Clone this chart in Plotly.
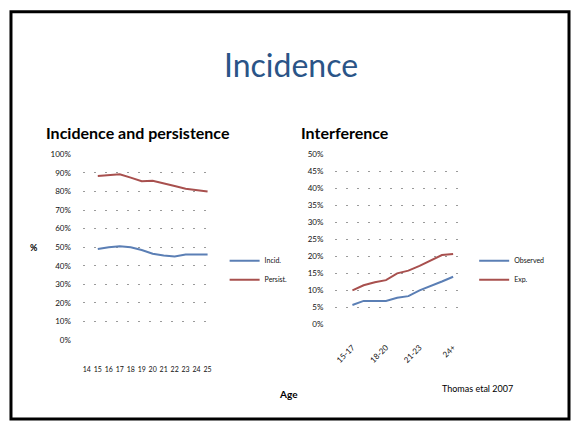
import plotly.graph_objects as go

# ---- data ----
left_age = [15, 16, 17, 18, 19, 20, 21, 22, 23, 24, 25]
left_blue = [49, 50, 50.5, 50, 48.5, 46.5, 45.5, 45, 46, 46, 46]
left_red = [88.4, 88.8, 89.3, 87.5, 85.5, 85.8, 84.2, 83.0, 81.5, 80.8, 80.0]
left_names = ["Incid.", "Persist."]
left_yticks = [0, 10, 20, 30, 40, 50, 60, 70, 80, 90, 100]
left_yticktext = ["0%", "10%", "20%", "30%", "40%", "50%", "60%", "70%", "80%", "90%", "100%"]
left_xticks = [14, 15, 16, 17, 18, 19, 20, 21, 22, 23, 24, 25]

right_age = [15, 16, 17, 18, 19, 20, 21, 22, 23, 24]
right_blue = [5.7, 6.9, 6.9, 6.9, 7.8, 8.3, 10.0, 11.2, 12.6, 14.0]
right_red = [10.0, 11.5, 12.4, 13.0, 15.0, 15.8, 17.2, 18.7, 20.4, 20.7]
right_names = ["Observed", "Exp."]
right_yticks = [0, 5, 10, 15, 20, 25, 30, 35, 40, 45, 50]
right_yticktext = ["0%", "5%", "10%", "15%", "20%", "25%", "30%", "35%", "40%", "45%", "50%"]
right_xticks = [15, 18, 21, 24]
right_xticktext = ["15-17", "18-20", "21-23", "24+"]

BLUE = "#5B7FB5"
RED = "#A8504E"
W, H = 573, 426

def px(x):
    return x / W

def py(y):
    return 1 - y / H

fig = go.Figure()
fig.add_trace(go.Scatter(x=left_age, y=left_blue, mode="lines", name=left_names[0],
                         line=dict(color=BLUE, width=2), xaxis="x", yaxis="y", legend="legend"))
fig.add_trace(go.Scatter(x=left_age, y=left_red, mode="lines", name=left_names[1],
                         line=dict(color=RED, width=2), xaxis="x", yaxis="y", legend="legend"))
fig.add_trace(go.Scatter(x=right_age, y=right_blue, mode="lines", name=right_names[0],
                         line=dict(color=BLUE, width=2), xaxis="x2", yaxis="y2", legend="legend2"))
fig.add_trace(go.Scatter(x=right_age, y=right_red, mode="lines", name=right_names[1],
                         line=dict(color=RED, width=2), xaxis="x2", yaxis="y2", legend="legend2"))

grid = dict(showgrid=True, gridcolor="#9a9a9a", griddash="2px,9px", gridwidth=1, zeroline=False)
tickfont = dict(family="Lato", size=8, color="#111111")

fig.update_layout(
    width=W, height=H, margin=dict(l=0, r=0, t=0, b=0),
    paper_bgcolor="white", plot_bgcolor="white",
    xaxis=dict(domain=[px(82), px(213)], range=[13.64, 25.55], tickvals=left_xticks,
               tickfont=dict(family="Lato", size=7, color="#111111"), showgrid=False,
               zeroline=False, showline=False, ticks="", ticklabelstandoff=24, anchor="y"),
    yaxis=dict(domain=[py(343), py(153)], range=[0, 100], tickvals=left_yticks,
               ticktext=left_yticktext, tickfont=tickfont, ticks="", ticklabelstandoff=11,
               showline=False, anchor="x", **grid),
    xaxis2=dict(domain=[px(335), px(463)], range=[13.48, 24.9], tickvals=right_xticks,
                ticktext=right_xticktext, tickangle=-45, tickfont=tickfont, showgrid=False,
                zeroline=False, showline=False, ticks="", ticklabelstandoff=16, anchor="y2"),
    yaxis2=dict(domain=[py(327), py(153)], range=[0, 50], tickvals=right_yticks,
                ticktext=right_yticktext, tickfont=tickfont, ticks="", ticklabelstandoff=11,
                showline=False, anchor="x2", **grid),
    legend=dict(x=px(224), y=py(247), xanchor="left", yanchor="top",
                font=dict(family="Lato", size=7, color="#111111"), itemwidth=30,
                tracegroupgap=0, bgcolor="rgba(0,0,0,0)"),
    legend2=dict(x=px(474), y=py(247), xanchor="left", yanchor="top",
                 font=dict(family="Lato", size=7, color="#111111"), itemwidth=30,
                 tracegroupgap=0, bgcolor="rgba(0,0,0,0)"),
    showlegend=True,
)

fig.add_shape(type="rect", xref="paper", yref="paper",
              x0=px(10), x1=px(569), y0=py(424), y1=py(7),
              line=dict(color="black", width=3))

ann = [
    dict(text="Incidence", x=px(291), y=py(61), xanchor="center",
         font=dict(family="Lato", size=32, color="#2A5487")),
    dict(text="<b>Incidence and persistence</b>", x=px(43), y=py(131), xanchor="left",
         font=dict(family="Lato", size=16, color="black")),
    dict(text="<b>Interference</b>", x=px(299), y=py(131), xanchor="left",
         font=dict(family="Lato", size=16, color="black")),
    dict(text="<b>%</b>", x=px(33), y=py(248), xanchor="center",
         font=dict(family="Lato", size=9, color="black")),
    dict(text="<b>Age</b>", x=px(288), y=py(398), xanchor="center",
         font=dict(family="Lato", size=10, color="black")),
    dict(text="Thomas etal 2007", x=px(477), y=py(393), xanchor="center",
         font=dict(family="Lato", size=9, color="black")),
]
for a in ann:
    fig.add_annotation(xref="paper", yref="paper", showarrow=False, yanchor="middle", **a)

fig.write_html("out.html")
